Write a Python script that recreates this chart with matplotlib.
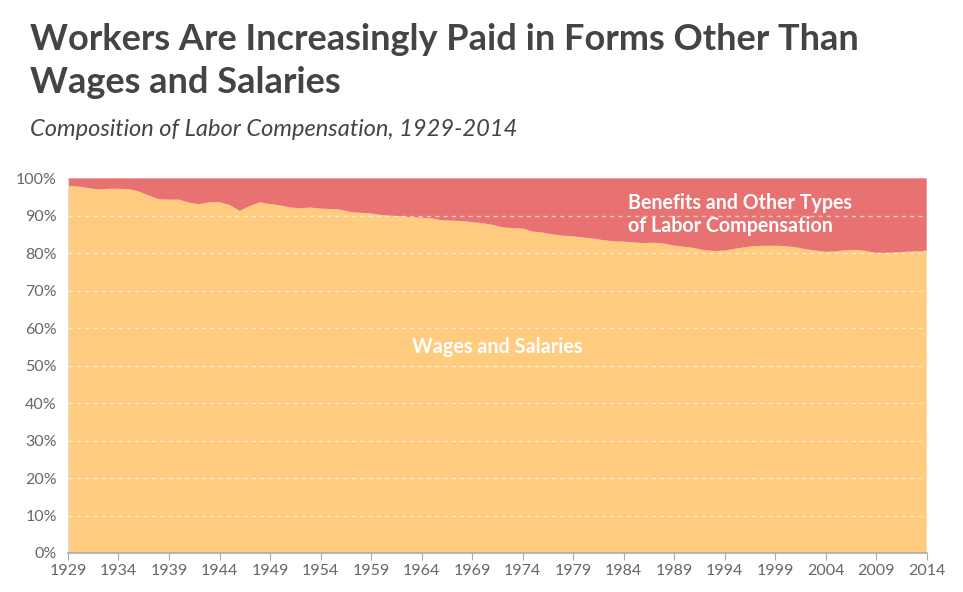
import numpy as np
import matplotlib
matplotlib.use("Agg")
import matplotlib.pyplot as plt
from matplotlib.ticker import FuncFormatter

plt.rcParams["font.family"] = ["Lato", "DejaVu Sans"]

years = list(range(1929, 2015))

# share of labor compensation paid as wages and salaries (%)
wages = [
    98.0, 97.8, 97.4, 97.0, 97.2, 97.2, 97.1, 96.5, 95.4, 94.4,   # 1929-1938
    94.3, 94.3, 93.5, 93.1, 93.6, 93.6, 92.9, 91.3, 92.6, 93.6,   # 1939-1948
    93.1, 92.8, 92.2, 92.0, 92.2, 91.9, 91.8, 91.6, 91.0, 90.8,   # 1949-1958
    90.6, 90.2, 90.0, 89.9, 89.6, 89.5, 89.3, 88.8, 88.7, 88.6,   # 1959-1968
    88.3, 88.0, 87.6, 86.9, 86.7, 86.6, 85.8, 85.5, 85.0, 84.7,   # 1969-1978
    84.5, 84.2, 83.9, 83.5, 83.2, 83.1, 82.9, 82.7, 82.8, 82.6,   # 1979-1988
    82.0, 81.7, 81.4, 80.8, 80.6, 80.7, 81.2, 81.6, 81.9, 82.0,   # 1989-1998
    82.0, 81.9, 81.6, 81.1, 80.7, 80.4, 80.5, 80.8, 80.9, 80.6,   # 1999-2008
    80.1, 80.1, 80.2, 80.4, 80.5, 80.7,                           # 2009-2014
]
benefits = [100 - w for w in wages]

tick_years = list(range(1929, 2015, 5))

yellow = "#FECB7F"
red = "#E87272"

fig = plt.figure(figsize=(9.63, 5.92), dpi=100)
ax = fig.add_axes([0.0706, 0.0659, 0.8917, 0.6329])

ax.stackplot(years, wages, benefits, colors=[yellow, red], linewidth=0)

ax.set_xlim(1929, 2014)
ax.set_ylim(0, 100)
ax.set_yticks(range(0, 101, 10))
ax.yaxis.set_major_formatter(FuncFormatter(lambda v, p: f"{int(v)}%"))
ax.set_xticks(tick_years)

for v in range(10, 100, 10):
    ax.axhline(v, color="white", alpha=0.6, lw=1, ls=(0, (3, 3)), zorder=3)

for s in ["top", "right"]:
    ax.spines[s].set_visible(False)
ax.spines["left"].set_color("#dddddd")
ax.spines["bottom"].set_color("#aaaaaa")
ax.spines["bottom"].set_linewidth(1.2)

ax.tick_params(axis="y", length=0, pad=8, labelsize=11.5, labelcolor="#666666")
ax.tick_params(axis="x", length=5, color="#aaaaaa", pad=3, labelsize=11.5,
               labelcolor="#666666")

ax.text(1971.5, 55, "Wages and Salaries", color="white", fontsize=14.2,
        fontweight="bold", ha="center", va="center", zorder=4)
ax.text(1984.4, 90.3, "Benefits and Other Types\nof Labor Compensation",
        color="white", fontsize=14.1, fontweight="bold", ha="left",
        va="center", linespacing=1.15, zorder=4)

fig.text(30 / 963, 1 - 61 / 592,
         "Workers Are Increasingly Paid in Forms Other Than\nWages and Salaries",
         fontsize=26, fontweight="bold", color="#444444", ha="left",
         va="center", linespacing=1.4)
fig.text(30 / 963, 1 - 130 / 592, "Composition of Labor Compensation, 1929-2014",
         fontsize=17, style="italic", color="#444444", ha="left", va="center")

fig.savefig("out.png", dpi=100)
